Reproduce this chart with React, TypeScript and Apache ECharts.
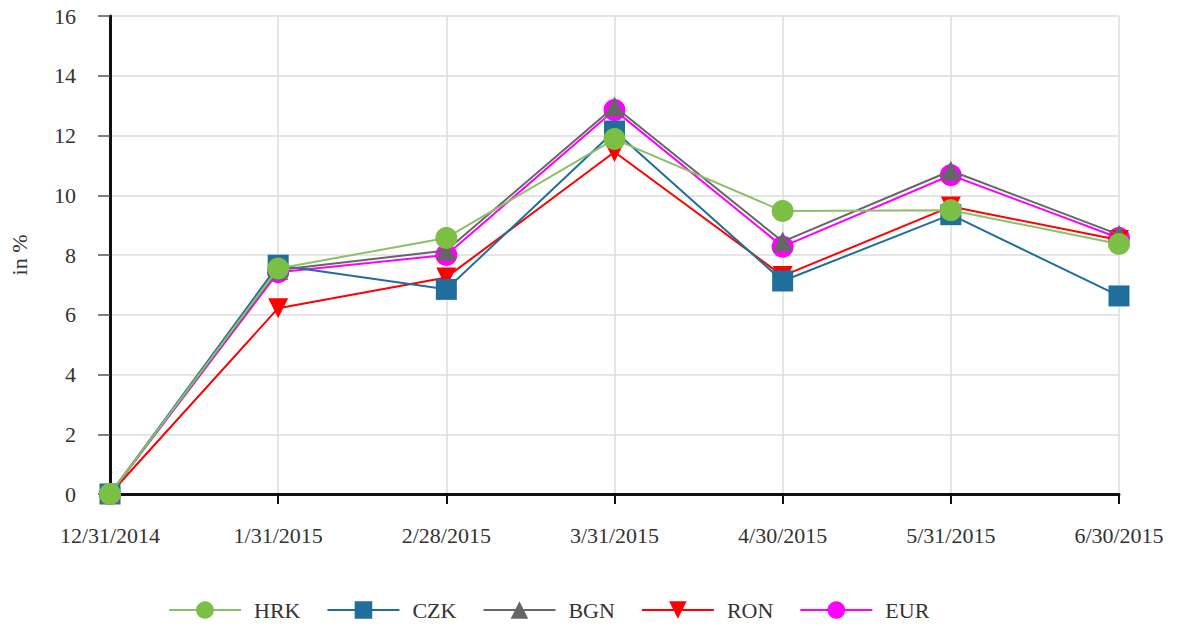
import React, { useEffect, useRef } from "react";
import * as echarts from "echarts";

const categories = ["12/31/2014", "1/31/2015", "2/28/2015", "3/31/2015", "4/30/2015", "5/31/2015", "6/30/2015"];
const HRK = [0, 7.55, 8.57, 11.88, 9.47, 9.5, 8.37];
const CZK = [0, 7.66, 6.85, 12.15, 7.13, 9.35, 6.63];
const BGN = [0, 7.5, 8.15, 12.97, 8.45, 10.82, 8.68];
const RON = [0, 6.22, 7.25, 11.45, 7.3, 9.62, 8.5];
const EUR = [0, 7.42, 8.0, 12.85, 8.28, 10.67, 8.57];
const legendOrder = ["HRK", "CZK", "BGN", "RON", "EUR"];

const FONT = "'Liberation Serif', 'Times New Roman', serif";

export default function App() {
  const ref = useRef<HTMLDivElement>(null);
  useEffect(() => {
    if (!ref.current) return;
    const chart = echarts.init(ref.current, undefined, { renderer: "svg" });
    const mk = (name: string, data: number[], lineColor: string, markColor: string, symbol: string, size: number, z: number) => ({
      name,
      type: "line",
      data,
      symbol,
      symbolSize: size,
      z,
      lineStyle: { color: lineColor, width: 2 },
      itemStyle: { color: markColor, borderWidth: 0 },
      emphasis: { disabled: true },
    });
    chart.setOption({
      animation: false,
      backgroundColor: "#ffffff",
      grid: { left: 105, right: 62, top: 16, bottom: 132, containLabel: false },
      legend: {
        data: legendOrder,
        left: 168,
        top: 599,
        padding: 0,
        itemWidth: 72,
        itemHeight: 22,
        itemGap: 26,
        textStyle: { fontFamily: FONT, fontSize: 22, color: "#333", padding: [0, 0, 0, 8] },
      },
      xAxis: {
        type: "category",
        data: categories,
        boundaryGap: false,
        axisLine: { lineStyle: { color: "#111", width: 3 } },
        axisTick: { show: true, length: 10, alignWithLabel: true, lineStyle: { color: "#111", width: 2 } },
        axisLabel: { margin: 30, fontFamily: FONT, fontSize: 22, color: "#333", interval: 0 },
        splitLine: { show: true, lineStyle: { color: "#dcdcdc", width: 1.5 } },
      },
      yAxis: {
        type: "value",
        min: 0,
        max: 16,
        interval: 2,
        name: "in %",
        nameLocation: "middle",
        nameGap: 80,
        nameTextStyle: { fontFamily: FONT, fontSize: 22, color: "#333" },
        axisLine: { show: true, lineStyle: { color: "#111", width: 3 } },
        axisTick: { show: true, length: 12, lineStyle: { color: "#555", width: 1.5 } },
        axisLabel: { margin: 34, fontFamily: FONT, fontSize: 22, color: "#333" },
        splitLine: { show: true, lineStyle: { color: "#dcdcdc", width: 1.5 } },
      },
      series: [
        mk("EUR", EUR, "#ff00ff", "#ff00ff", "circle", 22, 2),
        mk("RON", RON, "#ff0000", "#ff0000", "path://M0,0 L10,0 L5,9 Z", 20, 3),
        mk("CZK", CZK, "#1f6e9c", "#1f6e9c", "rect", 21, 4),
        mk("BGN", BGN, "#666666", "#666666", "triangle", 20, 5),
        mk("HRK", HRK, "#8cc068", "#7cbf45", "circle", 22, 6),
      ],
    });
    return () => chart.dispose();
  }, []);
  return <div ref={ref} style={{ position: "fixed", left: 0, top: 0, width: 1181, height: 626, background: "#fff" }} />;
}
